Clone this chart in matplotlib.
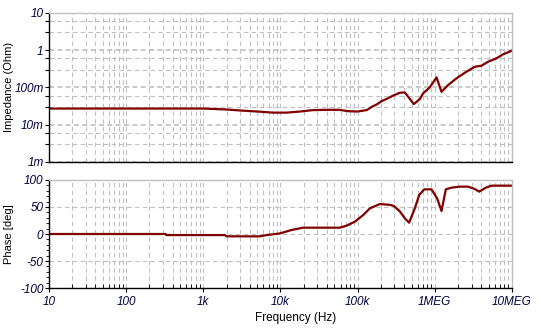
#%% Imports
import matplotlib
matplotlib.use('Agg')
import matplotlib.pyplot as plt
from matplotlib.ticker import LogLocator, FixedLocator, MultipleLocator, NullFormatter
import numpy as np


#%% Data: impedance magnitude and phase of the network vs. frequency
freqZ = [10, 1000, 2000, 3000, 5000, 8000, 12000, 18000, 26000, 40000, 58000,
         75000, 100000, 131600, 152800, 177500, 205800, 246000, 285700, 352000,
         408500, 534500, 639500, 705000, 861000, 1052000, 1221000, 1486000,
         1909000, 2447000, 3297000, 4027000, 4900000, 6290000, 7670000, 10000000]
impedance = [0.027, 0.027, 0.0255, 0.024, 0.0225, 0.021, 0.021, 0.0225, 0.0245,
             0.025, 0.025, 0.023, 0.0225, 0.0246, 0.0302, 0.035, 0.043, 0.0507,
             0.0596, 0.0716, 0.073, 0.0356, 0.0485, 0.069, 0.100, 0.185, 0.076,
             0.115, 0.174, 0.246, 0.356, 0.379, 0.485, 0.598, 0.767, 0.96]

freqP = [10, 325, 330, 1905, 2000, 5400, 6600, 9800, 13900, 19500, 58800, 71800,
         92000, 117800, 143900, 194000, 261000, 295000, 352000, 408500, 464500,
         550700, 626400, 727700, 906000, 1071000, 1222000, 1389000, 1645000,
         2108000, 2700000, 3297000, 3750000, 4580000, 5420000, 10000000]
phase = [0, 0, -2, -2, -4.3, -4.3, -2, 1, 7.4, 11.7, 11.7, 15.4, 22.8, 35, 47.5,
         55.5, 54, 52, 42, 29, 21, 47.5, 72, 82.7, 82.7, 66, 42.6, 82.7, 85.8,
         87.7, 87.7, 83.3, 78.4, 85.8, 89.5, 89.5]

freqTicks = [10, 100, 1e3, 1e4, 1e5, 1e6, 1e7]
freqLabels = ['10', '100', '1k', '10k', '100k', '1MEG', '10MEG']
zTicks = [1e-3, 1e-2, 1e-1, 1, 10]
zLabels = ['1m', '10m', '100m', '1', '10']


#%% Styling
plt.rcParams['font.family'] = ['Liberation Sans', 'DejaVu Sans']
plt.rcParams['axes.unicode_minus'] = False
traceColor = '#800000'
gridColor = '#c0c0c0'
labelColor = '#000040'

fig = plt.figure(figsize=(5.42, 3.31), dpi=100)
axZ = fig.add_axes([0.0904, 0.5106, 0.8542, 0.4511])
axP = fig.add_axes([0.0904, 0.1299, 0.8542, 0.3263])


def style_axes(ax):
    ax.set_xscale('log')
    ax.set_xlim(10, 1e7)
    for side in ['top', 'right']:
        ax.spines[side].set_color(gridColor)
        ax.spines[side].set_linewidth(1.0)
    for side in ['left', 'bottom']:
        ax.spines[side].set_color('black')
        ax.spines[side].set_linewidth(1.0)
    ax.xaxis.set_major_locator(FixedLocator(freqTicks))
    ax.xaxis.set_minor_locator(LogLocator(base=10, subs=np.arange(2, 10)))
    ax.grid(True, which='both', axis='x', color=gridColor, lw=0.8, linestyle=(0, (4, 3)))
    ax.set_axisbelow(True)


#%% Impedance plot
style_axes(axZ)
axZ.set_yscale('log')
axZ.set_ylim(1e-3, 10)
axZ.yaxis.set_major_locator(FixedLocator(zTicks))
axZ.set_yticklabels(zLabels)
axZ.yaxis.set_minor_locator(LogLocator(base=10, subs=(3.0, 6.0)))
axZ.yaxis.set_minor_formatter(NullFormatter())
axZ.grid(True, which='major', axis='y', color=gridColor, lw=1.2, linestyle=(0, (3, 2)))
axZ.grid(True, which='minor', axis='y', color=gridColor, lw=0.8, linestyle=(0, (4, 3)))
axZ.tick_params(axis='x', which='both', length=0, labelbottom=False)
axZ.tick_params(axis='y', which='major', length=3, width=0.8, pad=1,
                labelsize=8.5, labelcolor=labelColor)
axZ.tick_params(axis='y', which='minor', length=3, width=0.8)
for lab in axZ.get_yticklabels():
    lab.set_fontstyle('italic')
axZ.plot(freqZ, impedance, color=traceColor, lw=1.6, solid_joinstyle='round')
axZ.set_ylabel('Impedance (Ohm)', fontsize=8)
axZ.yaxis.set_label_coords(-0.075, 0.5)


#%% Phase plot
style_axes(axP)
axP.set_ylim(-100, 100)
axP.yaxis.set_major_locator(MultipleLocator(50))
axP.yaxis.set_minor_locator(MultipleLocator(10))
axP.grid(True, which='major', axis='y', color=gridColor, lw=0.8, linestyle=(0, (4, 3)))
axP.set_xticklabels(freqLabels)
axP.tick_params(axis='x', which='major', length=3, width=0.8, pad=3,
                labelsize=8.5, labelcolor=labelColor)
axP.tick_params(axis='x', which='minor', length=3, width=0.6, direction='in')
axP.tick_params(axis='y', which='major', length=3, width=0.8, pad=1,
                labelsize=8.5, labelcolor=labelColor)
axP.tick_params(axis='y', which='minor', length=2, width=0.6)
for lab in axP.get_xticklabels() + axP.get_yticklabels():
    lab.set_fontstyle('italic')
axP.plot(freqP, phase, color=traceColor, lw=1.6, solid_joinstyle='round')
axP.set_ylabel('Phase [deg]', fontsize=8)
axP.yaxis.set_label_coords(-0.075, 0.5)

fig.text(296 / 542, 0.038, 'Frequency (Hz)', fontsize=8.5, ha='center', va='center')

fig.savefig('out.png', dpi=100)
